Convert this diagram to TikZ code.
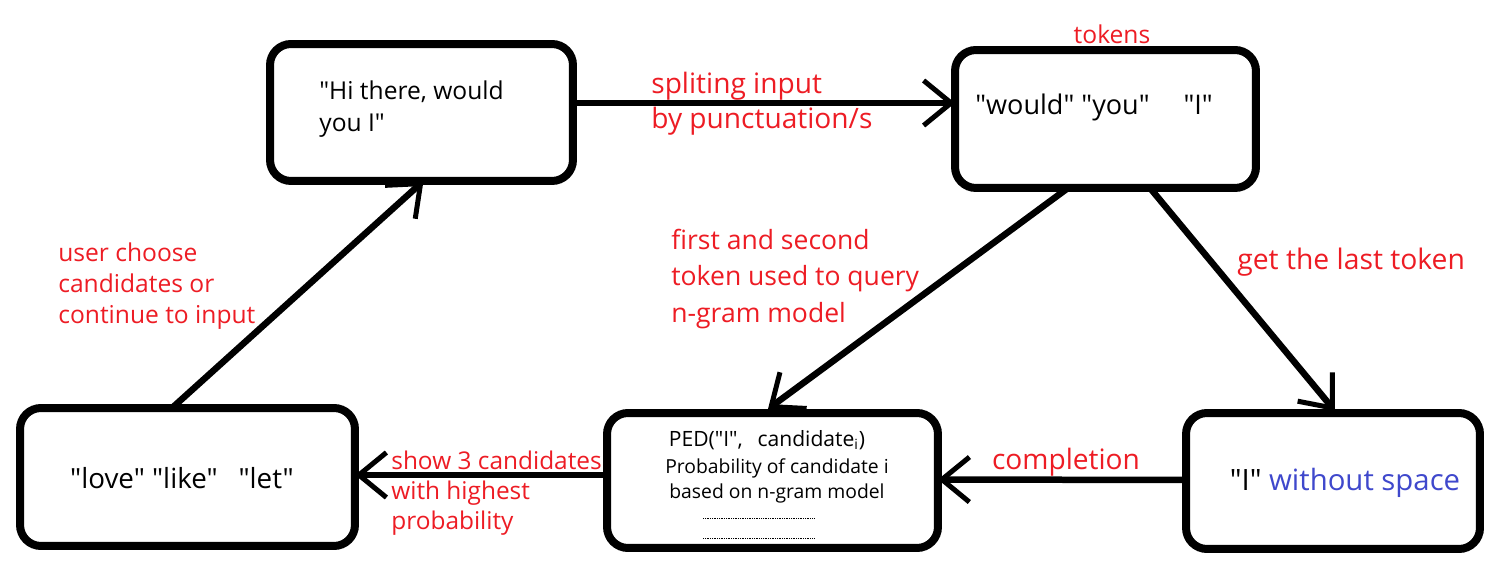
\documentclass[tikz,border=0pt]{standalone}
\usepackage{fontspec}
\setmainfont{Open Sans}[Ligatures=TeXOff]
\usetikzlibrary{arrows.meta,calc}
\definecolor{pred}{RGB}{237,28,36}
\definecolor{pblue}{RGB}{63,72,204}
\tikzset{
  box/.style={draw=black, line width=0.16cm, rounded corners=0.42cm, outer sep=0pt, inner sep=0pt},
  arr/.style={line width=0.13cm, -{Straight Barb[length=0.55cm, width=0.9cm, line width=0.1cm]}},
  lbl/.style={text=pred, inner sep=0pt, align=left},
  txt/.style={text=black, inner sep=0pt, align=left},
  dots/.style={line width=0.5pt, dash pattern=on 0.5pt off 0.5pt},
}
\newcommand{\fs}[2]{\fontsize{#1}{#2}\selectfont}
\begin{document}
\begin{tikzpicture}[x=0.02cm,y=-0.02cm]
\useasboundingbox (0,0) rectangle (1498,567);
% boxes
\node[box, minimum width=6.06cm, minimum height=2.74cm] (tl) at (421.5,112.5) {};
\node[box, minimum width=6.02cm, minimum height=2.76cm] (tr) at (1105.5,119) {};
\node[box, minimum width=6.7cm, minimum height=2.76cm] (bl) at (187.5,477) {};
\node[box, minimum width=6.62cm, minimum height=2.7cm] (bm) at (772.5,480.5) {};
\node[box, minimum width=5.88cm, minimum height=2.72cm] (br) at (1333,481) {};
% box texts
\node[txt, anchor=west, font=\fs{14}{18}] (tltext) at (319,109) {"Hi there, would\\you I"};
\node[txt, font=\fs{15.4}{20}] (trtext) at (1094,107) {"would" "you"\hspace{1.25em}"I"};
\node[txt, font=\fs{15.8}{18}] (bltext) at (182,478) {"love" "like"\hspace{0.75em}"let"};
\node[txt, font=\fs{16.7}{20}] (brtext) at (1345,483) {"I" \textcolor{pblue}{without space}};
\node[txt, font=\fs{12}{14}] (ped) at (767,440) {PED("I",\hspace{0.7em}candidate\textsubscript{i})};
\node[txt, align=center, font=\fs{11}{14.2}] (prob) at (777,481) {Probability of candidate i\\based on n-gram model};
\draw[dots] ($(bm.south)+(-69.5,-30)$) coordinate (d1a) -- ($(bm.south)+(42.5,-30)$) coordinate (d1b);
\draw[dots] ($(bm.south)+(-69.5,-10)$) coordinate (d2a) -- ($(bm.south)+(42.5,-10)$) coordinate (d2b);
% arrows
\draw[arr] ($(tl.east)+(0,-9.5)$) -- ($(tr.west)+(0,-16)$);
\draw[arr] ($(tr.south)+(-37.5,0)$) -- ($(bm.north)+(-4.5,-4)$);
\draw[arr] ($(tr.south)+(44.5,0)$) -- ($(br.north)+(2,-2)$);
\draw[arr] ($(br.west)+(0,-1)$) -- ($(bm.east)+(0,-1)$);
\draw[arr] ($(bm.west)+(0,-5.5)$) -- ($(bl.east)+(0,-2)$);
\draw[arr] ($(bl.north)+(-15.5,0)$) -- ($(tl.south)+(2,0)$);
% labels
\node[lbl, font=\fs{14}{16}] (tokens) at (1112,34) {tokens};
\node[lbl, anchor=west, font=\fs{16}{19.9}] (split) at (651,104) {spliting input\\by punctuation/s};
\node[lbl, anchor=west, font=\fs{15.1}{20.7}] (query) at (671,279) {first and second\\token used to query\\n-gram model};
\node[lbl, anchor=west, font=\fs{16.1}{18}] (last) at (1237,262) {get the last token};
\node[lbl, font=\fs{16}{18}] (compl) at (1066,462) {completion};
\node[lbl, anchor=west, font=\fs{13.9}{17}] (show) at (391,493) {show 3 candidates\\with highest\\probability};
\node[lbl, anchor=west, font=\fs{14}{17.6}] (user) at (58,286) {user choose\\candidates or\\continue to input};
\end{tikzpicture}
\end{document}
